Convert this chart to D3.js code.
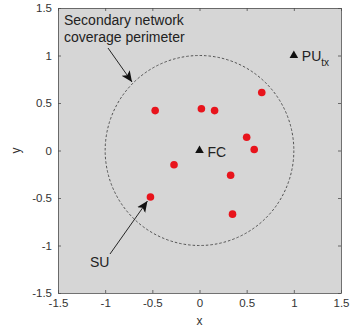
<!DOCTYPE html>
<html>
<head>
<meta charset="utf-8">
<script src="https://cdn.jsdelivr.net/npm/d3@7"></script>
<style>
  body { margin: 0; background: #fff; }
  svg { font-family: "Liberation Sans", Arial, sans-serif; }
</style>
</head>
<body>
<div id="chart"></div>
<script>
// secondary users (red dots)
var suX = [-0.47, 0.02, 0.16, 0.66, 0.50, 0.58, -0.27, 0.33, -0.52, 0.35]
var suY = [0.42, 0.44, 0.42, 0.61, 0.14, 0.01, -0.15, -0.26, -0.49, -0.67]
// fusion centre and primary transmitter
var fc = [0, 0]
var pu = [1, 1]
var radius = 1
var ticks = [-1.5, -1, -0.5, 0, 0.5, 1, 1.5]

var width = 350, height = 331
var padding = { top: 8, right: 9, bottom: 38, left: 58 }

var svg = d3.select("#chart").append("svg")
    .attr("width", width)
    .attr("height", height)

var x = d3.scaleLinear().domain([-1.5, 1.5]).range([padding.left, width - padding.right])
var y = d3.scaleLinear().domain([-1.5, 1.5]).range([height - padding.bottom, padding.top])

svg.append("rect")
    .attr("x", x(-1.5)).attr("y", y(1.5))
    .attr("width", x(1.5) - x(-1.5)).attr("height", y(-1.5) - y(1.5))
    .attr("fill", "#d6d6d6")

// axes, MATLAB style box with inward ticks
var fmt = d => d3.format("")(d).replace("−", "-")
var axB = d3.axisBottom(x).tickValues(ticks).tickSizeInner(-3).tickSizeOuter(0).tickPadding(6).tickFormat(fmt)
var axL = d3.axisLeft(y).tickValues(ticks).tickSizeInner(-3).tickSizeOuter(0).tickPadding(6).tickFormat(fmt)
var axT = d3.axisTop(x).tickValues(ticks).tickSizeInner(-3).tickSizeOuter(0).tickFormat("")
var axR = d3.axisRight(y).tickValues(ticks).tickSizeInner(-3).tickSizeOuter(0).tickFormat("")

svg.append("g").attr("transform", "translate(0," + y(-1.5) + ")").call(axB)
svg.append("g").attr("transform", "translate(" + x(-1.5) + ",0)").call(axL)
svg.append("g").attr("transform", "translate(0," + y(1.5) + ")").call(axT)
svg.append("g").attr("transform", "translate(" + x(1.5) + ",0)").call(axR)
svg.selectAll(".domain, .tick line").attr("stroke", "#4d4d4d").attr("stroke-width", 0.8)
svg.selectAll(".tick text").attr("fill", "#333").attr("font-size", 11.5)
    .attr("font-family", "Liberation Sans, Arial, sans-serif")

svg.append("text").attr("x", x(0)).attr("y", 325).attr("text-anchor", "middle")
    .attr("font-size", 12).attr("fill", "#333").text("x")
svg.append("text").attr("transform", "translate(20," + y(0) + ") rotate(-90)")
    .attr("text-anchor", "middle").attr("font-size", 12).attr("fill", "#333").text("y")

// coverage perimeter
svg.append("ellipse")
    .attr("cx", x(0)).attr("cy", y(0))
    .attr("rx", x(radius) - x(0)).attr("ry", y(0) - y(radius))
    .attr("fill", "none").attr("stroke", "#444").attr("stroke-width", 0.9)
    .attr("stroke-dasharray", "2.5,2")

svg.selectAll("circle.su").data(suX).enter().append("circle")
    .attr("class", "su")
    .attr("cx", d => x(d))
    .attr("cy", (d, i) => y(suY[i]))
    .attr("r", 3.8)
    .attr("fill", "#e8141c")

var tri = d3.symbol().type(d3.symbolTriangle).size(32)
svg.selectAll("path.bs").data([fc, pu]).enter().append("path")
    .attr("class", "bs")
    .attr("d", tri)
    .attr("transform", d => "translate(" + x(d[0]) + "," + y(d[1]) + ")")
    .attr("fill", "#111")

svg.append("text").attr("x", x(fc[0]) + 8).attr("y", y(fc[1]) + 6)
    .attr("font-size", 14).attr("fill", "#222").text("FC")
var puLabel = svg.append("text").attr("x", x(pu[0]) + 8).attr("y", y(pu[1]) + 5)
    .attr("font-size", 14).attr("fill", "#222")
puLabel.append("tspan").text("PU")
puLabel.append("tspan").attr("font-size", 10).attr("dy", 5).text("tx")

// annotations
svg.append("defs").append("marker")
    .attr("id", "head").attr("viewBox", "0 0 10 10")
    .attr("refX", 10).attr("refY", 5)
    .attr("markerWidth", 11).attr("markerHeight", 11)
    .attr("markerUnits", "userSpaceOnUse")
    .attr("orient", "auto")
  .append("path").attr("d", "M0,0.5 L10,5 L0,9.5 L2.5,5 Z").attr("fill", "#111")

var note = svg.append("text").attr("font-size", 14).attr("fill", "#222")
note.append("tspan").attr("x", 64).attr("y", 25).text("Secondary network")
note.append("tspan").attr("x", 64).attr("y", 42).text("coverage perimeter")

svg.append("line").attr("x1", 108).attr("y1", 48).attr("x2", 132).attr("y2", 82)
    .attr("stroke", "#111").attr("stroke-width", 0.9).attr("marker-end", "url(#head)")

svg.append("text").attr("x", 90).attr("y", 267).attr("font-size", 14).attr("fill", "#222").text("SU")
svg.append("line").attr("x1", 110).attr("y1", 254).attr("x2", x(suX[8]) - 3).attr("y2", y(suY[8]) + 4)
    .attr("stroke", "#111").attr("stroke-width", 0.9).attr("marker-end", "url(#head)")
</script>
</body>
</html>
